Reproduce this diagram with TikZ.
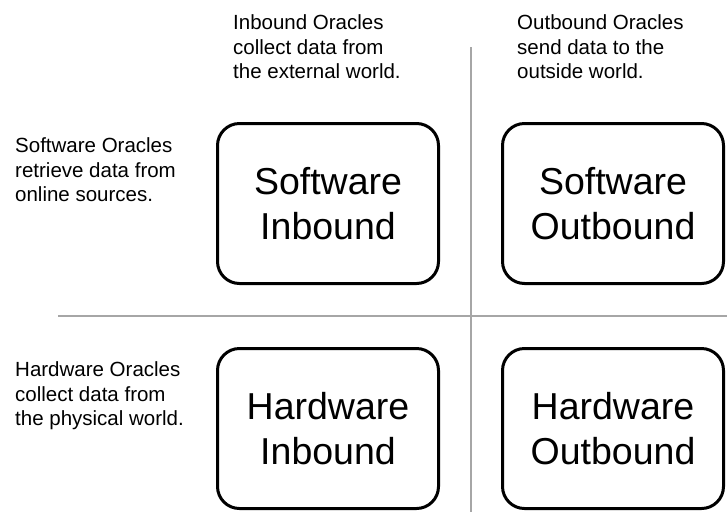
\documentclass[tikz,border=0pt]{standalone}
\usepackage{fontspec}
\setmainfont{Liberation Sans}
\usetikzlibrary{positioning}

\begin{document}
\begin{tikzpicture}[x=1pt,y=-1pt,node distance=62pt and 61pt]
  \tikzstyle{quad}=[draw,rounded corners=22pt,line width=3pt,minimum width=221pt,minimum height=160pt,align=center,inner sep=0pt,font=\fontsize{37.5}{45}\selectfont]
  \tikzstyle{note}=[anchor=north west,align=left,inner sep=0pt,font=\fontsize{20.5}{24.5}\selectfont]
  \tikzstyle{axis}=[draw=black!35,line width=2pt]
  \useasboundingbox (0,0) rectangle (727,512);
  % the four kinds of oracle
  \node[quad] (swin) at (328,203.5) {Software\\Inbound};
  \node[quad,right=of swin] (swout) {Software\\Outbound};
  \node[quad,below=of swin] (hwin) {Hardware\\Inbound};
  \node[quad,below=of swout] (hwout) {Hardware\\Outbound};
  % quadrant axes
  \coordinate (vtop) at (471,47);
  \coordinate (vbot) at (471,512);
  \coordinate (hleft) at (58,316);
  \coordinate (hright) at (727,316);
  \draw[axis] (vtop) -- (vbot);
  \draw[axis] (hleft) -- (hright);
  % column and row notes
  \node[note] (inlbl) at (233,14.5) {Inbound Oracles\\collect data from\\the external world.};
  \node[note] (outlbl) at (517,14.5) {Outbound Oracles\\send data to the\\outside world.};
  \node[note] (swlbl) at (15,137.5) {Software Oracles\\retrieve data from\\online sources.};
  \node[note] (hwlbl) at (15,361.5) {Hardware Oracles\\collect data from\\the physical world.};
\end{tikzpicture}
\end{document}
